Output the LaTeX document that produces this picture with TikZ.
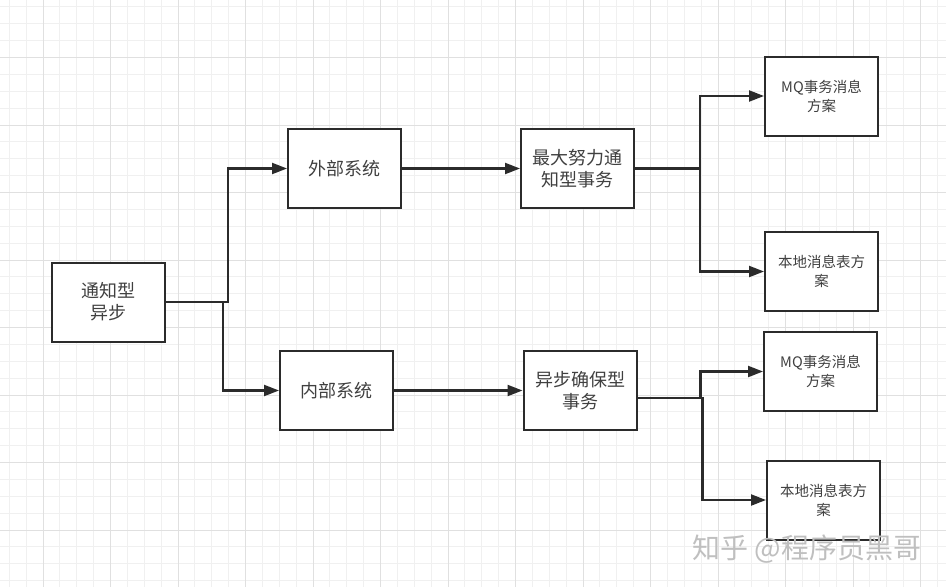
\documentclass[tikz,border=0pt]{standalone}
\usepackage{fontspec}
\setmainfont{Noto Sans CJK SC}
\usetikzlibrary{arrows.meta}
\definecolor{ink}{HTML}{2B2B2B}
\definecolor{gridminor}{HTML}{F0F0F0}
\definecolor{gridmajor}{HTML}{E0E0E0}

\begin{document}
\begin{tikzpicture}[
    x=1pt, y=-1pt,
    box/.style={draw=ink, fill=white, line width=2pt, minimum width=113pt,
                minimum height=79pt, inner sep=0pt, align=center,
                text=ink!90, font=\fontsize{18}{22}\selectfont},
    smallbox/.style={box, font=\fontsize{14.5}{19}\selectfont},
    flow/.style={-{Triangle[length=15pt, width=11pt]}, draw=ink, line width=2.2pt},
]

    % background paper
    \useasboundingbox (0,0) rectangle (946,587);
    \fill[white] (0,0) rectangle (946,587);
    \foreach \i in {0,...,55} \draw[gridminor, line width=0.8pt] ({9.25+16.875*\i},0) -- ++(0,587);
    \foreach \i in {0,...,34} \draw[gridminor, line width=0.8pt] (0,{6.875+16.875*\i}) -- ++(946,0);
    \foreach \i in {0,...,13} \draw[gridmajor, line width=0.9pt] ({43+67.5*\i},0) -- ++(0,587);
    \foreach \i in {0,...,8} \draw[gridmajor, line width=0.9pt] (0,{-10+67.5*\i}) -- ++(946,0);

    \node[box] (notify) at (108.5, 302) {通知型\\异步};
    \node[box] (external) at (344.5, 168.5) {外部系统};
    \node[box] (internal) at (336.5, 390.5) {内部系统};
    \node[box] (besteffort) at (577.5, 168.5) {最大努力通\\知型事务};
    \node[box] (reliable) at (580, 390.5) {异步确保型\\事务};
    \node[smallbox] (mqA) at (821.5, 96) {MQ事务消息\\方案};
    \node[smallbox] (localA) at (821.5, 271.5) {本地消息表方\\案};
    \node[smallbox] (mqB) at (820.5, 371.5) {MQ事务消息\\方案};
    \node[smallbox] (localB) at (823.5, 500) {本地消息表方\\案};

    \draw[flow] (notify.east) -- ++(62,0) |- (external.west);
    \draw[flow] (notify.east) -- ++(57,0) |- (internal.west);
    \draw[flow] (external.east) -- (besteffort.west);
    \draw[flow] (internal.east) -- (reliable.west);
    \draw[flow] (besteffort.east) -- ++(65,0) |- (mqA.west);
    \draw[flow] (besteffort.east) -- ++(65,0) |- (localA.west);
    \draw[flow] ([yshift=-7.5pt]reliable.east) -- ++(63,0) |- (mqB.west);
    \draw[flow] ([yshift=-7.5pt]reliable.east) -- ++(65,0) |- (localB.west);

    % watermark
    \node[text=black!25, font=\fontsize{28}{30}\selectfont, inner sep=0pt] (mark) at (807, 549) {知乎 @程序员黑哥};
\end{tikzpicture}
\end{document}
